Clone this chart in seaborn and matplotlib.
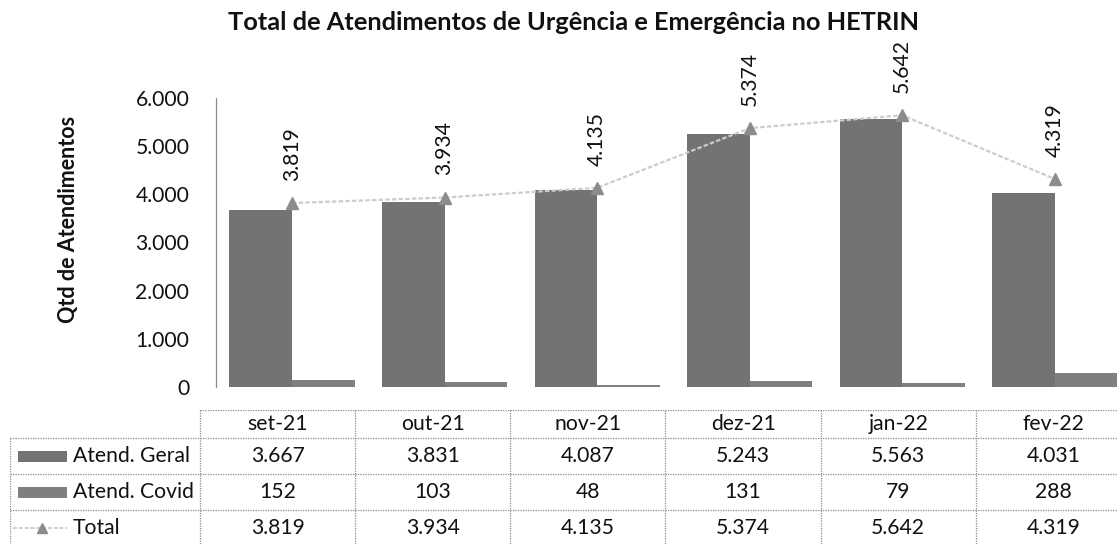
import numpy as np
import pandas as pd
import matplotlib
matplotlib.use("Agg")
import matplotlib.pyplot as plt
from matplotlib.patches import Rectangle
import seaborn as sns

# dados do grafico
meses = ["set-21", "out-21", "nov-21", "dez-21", "jan-22", "fev-22"]
geral = [3667, 3831, 4087, 5243, 5563, 4031]
covid = [152, 103, 48, 131, 79, 288]
total = [3819, 3934, 4135, 5374, 5642, 4319]
series = ["Atend. Geral", "Atend. Covid"]
yticks = [0, 1000, 2000, 3000, 4000, 5000, 6000]

titulo = "Total de Atendimentos de Urgência e Emergência no HETRIN"
ylabel = "Qtd de Atendimentos"

COR_GERAL = "#737373"
COR_COVID = "#7f7f7f"
COR_LINHA = "#cdcdcd"
COR_MARCA = "#8c8c8c"
COR_GRADE = "#8a8a8a"
FS = 15.2


def fmt(v):
    return f"{v:,}".replace(",", ".")


sns.set_theme(style="white")
plt.rcParams["font.family"] = ["Lato", "DejaVu Sans"]

W, H = 1118, 544
fig = plt.figure(figsize=(W / 100, H / 100), dpi=100)

# eixo principal (barras + linha)
ax = fig.add_axes([215.7 / W, 1 - 387 / H, (1131 - 215.7) / W, (387 - 98) / H])

df = pd.DataFrame({
    "mes": meses * 2,
    "serie": [series[0]] * len(meses) + [series[1]] * len(meses),
    "valor": geral + covid,
})
sns.barplot(data=df, x="mes", y="valor", hue="serie", order=meses,
            hue_order=series, palette=[COR_GERAL, COR_COVID], width=0.82,
            saturation=1, legend=False, ax=ax, linewidth=0)

x = np.arange(len(meses))
ax.plot(x, total, color=COR_LINHA, lw=1.6, ls=(0, (2, 1)), zorder=3)
ax.plot(x, total, ls="none", marker="^", ms=8, color=COR_MARCA,
        markeredgecolor=COR_MARCA, zorder=4)
for xi, v in zip(x, total):
    ax.annotate(fmt(v), (xi, v), xytext=(0, 16), textcoords="offset points",
                rotation=90, ha="center", va="bottom", fontsize=FS,
                color="#111111", annotation_clip=False)

ax.set_xlim(-0.5, len(meses) - 0.5)
ax.set_ylim(0, 6000)
ax.set_yticks(yticks)
ax.set_yticklabels([fmt(t) for t in yticks], fontsize=FS, color="#111111")
ax.tick_params(axis="y", length=0, pad=19)
ax.set_xticks([])
ax.set_xlabel("")
ax.set_ylabel("")
for s in ["top", "right", "bottom"]:
    ax.spines[s].set_visible(False)
ax.spines["left"].set_linestyle((0, (1, 1)))
ax.spines["left"].set_color(COR_GRADE)
ax.spines["left"].set_linewidth(0.9)
ax.patch.set_alpha(0)

fig.text(68 / W, 1 - 219 / H, ylabel, rotation=90, ha="center", va="center",
         fontsize=15.5, fontweight="bold", color="#111111")
fig.text(573 / W, 1 - 23 / H, titulo, ha="center", va="center",
         fontsize=18.3, fontweight="bold", color="#111111")

# tabela de dados
col_w = 155.2
lab_w = 190 / col_w
tab = fig.add_axes([10 / W, 1 - 546 / H, 1121 / W, 136 / H])
tab.set_xlim(-lab_w, len(meses))
tab.set_ylim(136, 0)
tab.axis("off")
rows = [0, 28, 64, 100, 136]
ls_grade = dict(color=COR_GRADE, lw=0.9, ls=(0, (1, 1)))

tab.plot([0, len(meses)], [rows[0]] * 2, **ls_grade)
for r in rows[1:]:
    tab.plot([-lab_w, len(meses)], [r] * 2, **ls_grade)
tab.plot([-lab_w, -lab_w], [rows[1], rows[-1]], **ls_grade)
for c in range(len(meses) + 1):
    tab.plot([c, c], [rows[0], rows[-1]], **ls_grade)

def u(px):
    return (px - 200) / col_w

for i, m in enumerate(meses):
    yc = (rows[0] + rows[1]) / 2
    tab.text(i + 0.5, yc, m, ha="center", va="center", fontsize=FS, color="#111111")
    for j, vals in enumerate([geral, covid, total]):
        yc = (rows[j + 1] + rows[j + 2]) / 2
        tab.text(i + 0.5, yc, fmt(vals[i]), ha="center", va="center",
                 fontsize=FS, color="#111111")

nomes = series + ["Total"]
for j, nome in enumerate(nomes):
    yc = (rows[j + 1] + rows[j + 2]) / 2
    tab.text(u(73), yc, nome, ha="left", va="center", fontsize=FS, color="#111111")
    if j < 2:
        tab.add_patch(Rectangle((u(18), yc - 5.5), u(67) - u(18), 11,
                                color=[COR_GERAL, COR_COVID][j], lw=0))
    else:
        tab.plot([u(13), u(67)], [yc, yc], color=COR_LINHA, lw=1.4, ls=(0, (2, 1)))
        tab.plot([u(42)], [yc], ls="none", marker="^", ms=7, color=COR_MARCA)

fig.savefig("out.png", dpi=100)
